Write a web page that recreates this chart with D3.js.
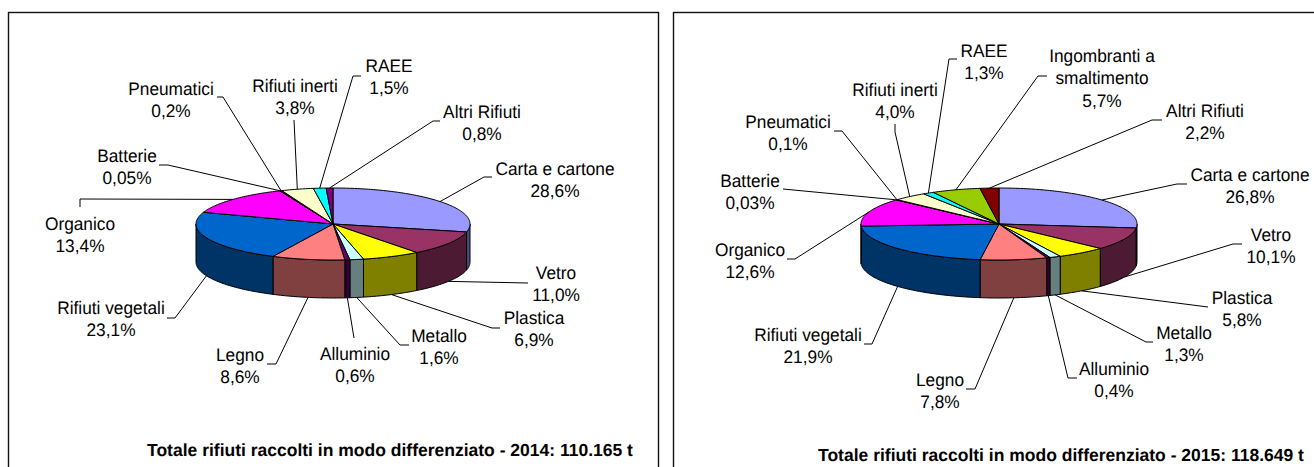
<!DOCTYPE html>
<html>
<head>
<meta charset="utf-8">
<script src="https://cdn.jsdelivr.net/npm/d3@7"></script>
<style>
  html, body { margin: 0; padding: 0; background: #fff; }
  svg { display: block; }
  text { font-family: "Liberation Sans", Arial, sans-serif; fill: #000; text-rendering: geometricPrecision; }
</style>
</head>
<body>
<svg id="chart" width="1314" height="467"></svg>
<script>
// values
var categories2014 = ["Carta e cartone", "Vetro", "Plastica", "Metallo", "Alluminio", "Legno", "Rifiuti vegetali", "Organico", "Batterie", "Pneumatici", "Rifiuti inerti", "RAEE", "Altri Rifiuti"]
var values2014 = [28.6, 11.0, 6.9, 1.6, 0.6, 8.6, 23.1, 13.4, 0.05, 0.2, 3.8, 1.5, 0.8]
var shown2014 = ["28,6%", "11,0%", "6,9%", "1,6%", "0,6%", "8,6%", "23,1%", "13,4%", "0,05%", "0,2%", "3,8%", "1,5%", "0,8%"]
var colors2014 = ["#9999ff", "#993366", "#ffff00", "#ccffff", "#660066", "#ff8080", "#0066cc", "#ff00ff", "#333399", "#000080", "#ffffcc", "#00ffff", "#800080"]

var categories2015 = ["Carta e cartone", "Vetro", "Plastica", "Metallo", "Alluminio", "Legno", "Rifiuti vegetali", "Organico", "Batterie", "Pneumatici", "Rifiuti inerti", "RAEE", "Ingombranti a\nsmaltimento", "Altri Rifiuti"]
var values2015 = [26.8, 10.1, 5.8, 1.3, 0.4, 7.8, 21.9, 12.6, 0.03, 0.1, 4.0, 1.3, 5.7, 2.2]
var shown2015 = ["26,8%", "10,1%", "5,8%", "1,3%", "0,4%", "7,8%", "21,9%", "12,6%", "0,03%", "0,1%", "4,0%", "1,3%", "5,7%", "2,2%"]
var colors2015 = ["#9999ff", "#993366", "#ffff00", "#ccffff", "#660066", "#ff8080", "#0066cc", "#ff00ff", "#333399", "#000080", "#ffffcc", "#00ffff", "#99cc00", "#800000"]

// label placement, [x, y of first line, elbow x, elbow y, end x, end y]
var layout2014 = [
  [555, 168, 484, 177, 492, 177],
  [556, 272, 528, 283, 528, 283],
  [534, 317, 492, 328, 500, 328],
  [439, 335, 400, 345, 409, 345],
  [355, 353, 354, 338, 354, 338],
  [240, 354, 276, 364, 267, 364],
  [111, 307, 175, 318, 167, 318],
  [80, 223, 80, 199, 80, 207],
  [127, 155, 168, 165, 159, 165],
  [171, 88, 223, 97, 217, 97],
  [295, 85, 294, 120, 294, 120],
  [389, 65, 353, 76, 361, 76],
  [482, 111, 433, 121, 440, 121]
]
var layout2015 = [
  [1250, 174, 1177, 184, 1187, 184],
  [1271, 234, 1233, 244, 1242, 244],
  [1242, 297, 1208, 307, 1208, 307],
  [1184, 332, 1146, 342, 1153, 342],
  [1114, 368, 1068, 378, 1077, 378],
  [940, 379, 975, 389, 966, 389],
  [808, 334, 872, 344, 864, 344],
  [750, 249, 795, 259, 787, 259],
  [750, 180, 783, 189, 783, 189],
  [788, 121, 842, 131, 834, 131],
  [895, 89, 895, 132, 895, 124],
  [984, 50, 949, 59, 957, 59],
  [1102, 55, 1038, 76, 1047, 76],
  [1205, 110, 1152, 120, 1162, 120]
]

var svg = d3.select("#chart")
var fontSize = 17.3
var stretch = 1.05
var lineGap = 22.5

var pie = d3.pie().sort(null).value(function(d) { return d })

function drawPie(o) {
  var cx = o.cx, cy = o.cy, rx = o.rx, ry = o.ry, depth = o.depth
  var g = svg.append("g")

  var px = d3.scaleLinear().domain([-1, 1]).range([cx - rx, cx + rx])
  var py = d3.scaleLinear().domain([-1, 1]).range([cy - ry, cy + ry])
  // angles are clockwise from 12 o'clock as in d3.pie
  function rim(a, dz) { return [px(Math.sin(a)), py(-Math.cos(a)) + (dz || 0)] }

  function arcPoints(a0, a1, dz) {
    var n = Math.max(2, Math.ceil((a1 - a0) / 0.02))
    return d3.range(n + 1).map(function(i) { return rim(a0 + (a1 - a0) * i / n, dz) })
  }

  var slices = pie(o.values)
  var line = d3.line()

  // sides first, only what faces the viewer
  slices.forEach(function(s, i) {
    var a0 = Math.max(s.startAngle, Math.PI / 2)
    var a1 = Math.min(s.endAngle, Math.PI * 1.5)
    if (a1 <= a0) return
    var pts = arcPoints(a0, a1, 0).concat(arcPoints(a0, a1, depth).reverse())
    var c = d3.rgb(o.colors[i])
    g.append("path")
      .attr("d", line(pts) + "Z")
      .attr("fill", d3.rgb(c.r / 2, c.g / 2, c.b / 2))
      .attr("stroke", "#000")
      .attr("stroke-width", 1)
      .attr("stroke-linejoin", "round")
  })

  // top face
  slices.forEach(function(s, i) {
    var pts = [[cx, cy]].concat(arcPoints(s.startAngle, s.endAngle, 0))
    g.append("path")
      .attr("d", line(pts) + "Z")
      .attr("fill", o.colors[i])
      .attr("stroke", "#000")
      .attr("stroke-width", 1)
      .attr("stroke-linejoin", "round")
  })

  // leaders start on the rim at the middle of the slice
  slices.forEach(function(s, i) {
    var mid = (s.startAngle + s.endAngle) / 2
    var front = mid > Math.PI / 2 && mid < Math.PI * 1.5
    var start = rim(mid, front ? depth : 0)
    var l = o.layout[i]
    g.append("path")
      .attr("d", line([start, [l[2], l[3]], [l[4], l[5]]]))
      .attr("fill", "none")
      .attr("stroke", "#000")
      .attr("stroke-width", 1)
  })

  // labels
  o.categories.forEach(function(name, i) {
    var l = o.layout[i]
    var lines = name.split("\n").concat(o.shown[i])
    lines.forEach(function(t, k) {
      g.append("text")
        .attr("transform", "translate(" + l[0] + "," + (l[1] + k * lineGap) + ") scale(1," + stretch + ")")
        .attr("text-anchor", "middle")
        .attr("dy", "0.36em")
        .style("font-size", fontSize + "px")
        .text(t)
    })
  })

  g.append("text")
    .attr("x", o.titleX)
    .attr("y", o.titleY)
    .attr("text-anchor", "middle")
    .attr("dy", "0.36em")
    .style("font-size", "17.5px")
    .style("font-weight", "bold")
    .text(o.title)

  g.append("rect")
    .attr("x", o.frame[0] + 0.5)
    .attr("y", o.frame[1] + 0.5)
    .attr("width", o.frame[2])
    .attr("height", o.frame[3])
    .attr("fill", "none")
    .attr("stroke", "#111")
    .attr("stroke-width", 1.4)
}

drawPie({
  cx: 333, cy: 224, rx: 137, ry: 36, depth: 38,
  categories: categories2014, values: values2014, shown: shown2014, colors: colors2014, layout: layout2014,
  title: "Totale rifiuti raccolti in modo differenziato - 2014: 110.165 t",
  titleX: 390, titleY: 450, frame: [8, 12, 650, 470]
})
drawPie({
  cx: 999, cy: 224, rx: 138, ry: 36, depth: 38,
  categories: categories2015, values: values2015, shown: shown2015, colors: colors2015, layout: layout2015,
  title: "Totale rifiuti raccolti in modo differenziato - 2015: 118.649 t",
  titleX: 1061, titleY: 455, frame: [673, 12, 650, 470]
})
</script>
</body>
</html>
